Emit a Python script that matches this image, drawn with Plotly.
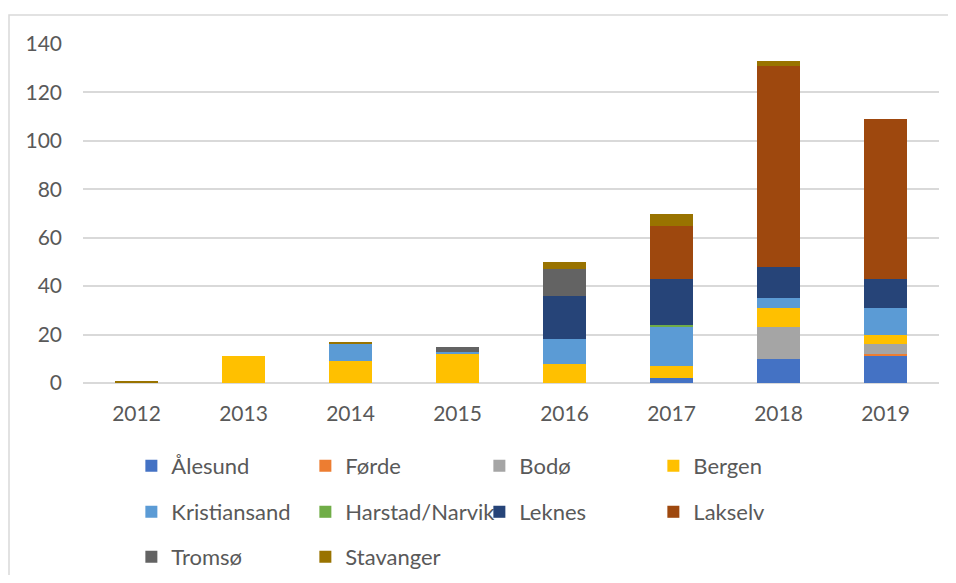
import plotly.graph_objects as go

years = ["2012", "2013", "2014", "2015", "2016", "2017", "2018", "2019"]

alesund      = [0, 0, 0, 0, 0, 2, 10, 11]
forde        = [0, 0, 0, 0, 0, 0, 0, 1]
bodo         = [0, 0, 0, 0, 0, 0, 13, 4]
bergen       = [0, 11, 9, 12, 8, 5, 8, 4]
kristiansand = [0, 0, 7, 1, 10, 16, 4, 11]
harstad      = [0, 0, 0, 0, 0, 1, 0, 0]
leknes       = [0, 0, 0, 0, 18, 19, 13, 12]
lakselv      = [0, 0, 0, 0, 0, 22, 83, 66]
tromso       = [0, 0, 0, 2, 11, 0, 0, 0]
stavanger    = [1, 0, 1, 0, 3, 5, 2, 0]

y_ticks = [0, 20, 40, 60, 80, 100, 120, 140]

series = [
    ("Ålesund", alesund, "#4472C4", "legend"),
    ("Førde", forde, "#ED7D31", "legend"),
    ("Bodø", bodo, "#A5A5A5", "legend"),
    ("Bergen", bergen, "#FFC000", "legend"),
    ("Kristiansand", kristiansand, "#5B9BD5", "legend2"),
    ("Harstad/Narvik", harstad, "#70AD47", "legend2"),
    ("Leknes", leknes, "#264478", "legend2"),
    ("Lakselv", lakselv, "#9E480E", "legend2"),
    ("Tromsø", tromso, "#636363", "legend3"),
    ("Stavanger", stavanger, "#997300", "legend3"),
]

fig = go.Figure()
for name, vals, color, lg in series:
    fig.add_trace(go.Bar(
        x=years, y=[v if v else None for v in vals], name=name, legend=lg,
        marker=dict(color=color, line=dict(width=0)),
    ))

W, H = 940, 567
L, T, PW, PH = 75, 36, 856, 339

def legend_cfg(top_px):
    return dict(
        orientation="h", traceorder="normal",
        x=0.0565, xanchor="left", y=-(top_px - (T + PH)) / PH, yanchor="top",
        entrywidth=129, entrywidthmode="pixels",
        font=dict(family="Lato", size=22, color="#595959"),
        itemclick=False, itemdoubleclick=False, bgcolor="rgba(0,0,0,0)",
    )

bx = (1 - L) / PW
by = (T + PH - 7) / PH
bx_end = (W - L) / PW
by_end = -(H - T - PH) / PH
border = dict(color="#D9D9D9", width=1.5)

fig.update_layout(
    width=W, height=H,
    barmode="stack", bargap=0.6,
    paper_bgcolor="white", plot_bgcolor="white",
    margin=dict(l=L, r=W - L - PW, t=T, b=H - T - PH, autoexpand=False),
    font=dict(family="Lato", size=21, color="#595959"),
    legend=legend_cfg(437),
    legend2=legend_cfg(483),
    legend3=legend_cfg(528),
    xaxis=dict(showgrid=False, showline=False, ticks="", ticklabelstandoff=16),
    yaxis=dict(range=[0, 140], tickvals=y_ticks, showgrid=True,
               gridcolor="#D9D9D9", gridwidth=1.5, zeroline=True,
               zerolinecolor="#D9D9D9", zerolinewidth=1.5,
               showline=False, ticks="", ticklabelstandoff=20),
    shapes=[
        dict(type="path", xref="paper", yref="paper",
             path=f"M {bx},{by_end} L {bx},{by} L {bx_end},{by}",
             line=border, layer="below"),
    ],
)

fig.write_html("out.html")
